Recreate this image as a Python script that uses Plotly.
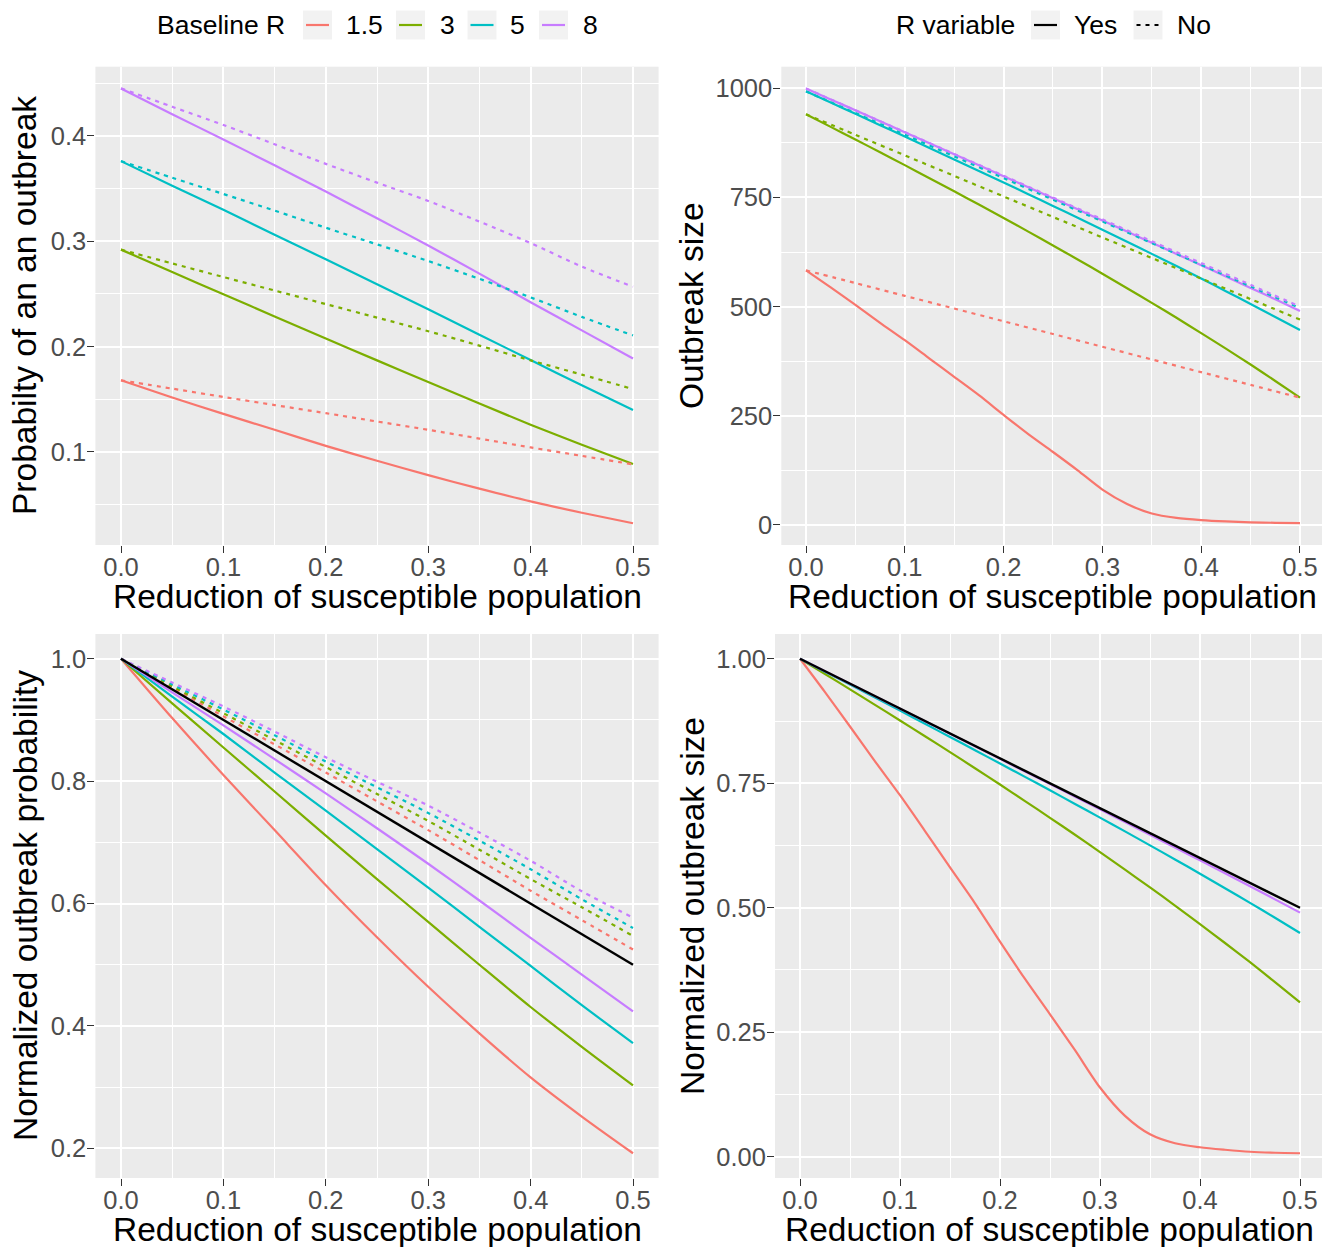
import plotly.graph_objects as go

# ---------------- data ----------------
x11 = [0.0, 0.05, 0.1, 0.15, 0.2, 0.25, 0.3, 0.35, 0.4, 0.45, 0.5]
x21 = [0.0, 0.025, 0.05, 0.075, 0.1, 0.125, 0.15, 0.175, 0.2, 0.225, 0.25,
       0.275, 0.3, 0.325, 0.35, 0.375, 0.4, 0.425, 0.45, 0.475, 0.5]
r_labels = ["1.5", "3", "5", "8"]

# Probability of an outbreak (R variable = Yes -> solid, No -> dotted)
prob_yes_1_5 = [0.168, 0.1517, 0.1361, 0.1210, 0.1058, 0.0916, 0.0780, 0.0652, 0.0531, 0.0423, 0.0323]
prob_yes_3 = [0.292, 0.2707, 0.2497, 0.2286, 0.2076, 0.1869, 0.1664, 0.1460, 0.1259, 0.1069, 0.0885]
prob_yes_5 = [0.376, 0.3527, 0.3298, 0.3061, 0.2828, 0.2591, 0.2354, 0.2113, 0.1872, 0.1632, 0.1399]
prob_yes_8 = [0.445, 0.4205, 0.3965, 0.3720, 0.3471, 0.3217, 0.2959, 0.2692, 0.2421, 0.2154, 0.1887]
prob_no_1_5 = [0.168, 0.1601, 0.1522, 0.1445, 0.1368, 0.1289, 0.1210, 0.1127, 0.1043, 0.0963, 0.0882]
prob_no_3 = [0.292, 0.2789, 0.2660, 0.2532, 0.2403, 0.2275, 0.2146, 0.2009, 0.1869, 0.1734, 0.1597]
prob_no_5 = [0.376, 0.3602, 0.3448, 0.3290, 0.3128, 0.2970, 0.2812, 0.2643, 0.2467, 0.2282, 0.2106]
prob_no_8 = [0.445, 0.4276, 0.4103, 0.3920, 0.3734, 0.3556, 0.3382, 0.3186, 0.2982, 0.2759, 0.2568]

# Normalized outbreak probability
nprob_yes_1_5 = [1.0, 0.903, 0.810, 0.720, 0.630, 0.545, 0.464, 0.388, 0.316, 0.252, 0.192]
nprob_yes_3 = [1.0, 0.927, 0.855, 0.783, 0.711, 0.640, 0.570, 0.500, 0.431, 0.366, 0.303]
nprob_yes_5 = [1.0, 0.938, 0.877, 0.814, 0.752, 0.689, 0.626, 0.562, 0.498, 0.434, 0.372]
nprob_yes_8 = [1.0, 0.945, 0.891, 0.836, 0.780, 0.723, 0.665, 0.605, 0.544, 0.484, 0.424]
nprob_no_1_5 = [1.0, 0.953, 0.906, 0.860, 0.814, 0.767, 0.720, 0.671, 0.621, 0.573, 0.525]
nprob_no_3 = [1.0, 0.955, 0.911, 0.867, 0.823, 0.779, 0.735, 0.688, 0.640, 0.594, 0.547]
nprob_no_5 = [1.0, 0.958, 0.917, 0.875, 0.832, 0.790, 0.748, 0.703, 0.656, 0.607, 0.560]
nprob_no_8 = [1.0, 0.961, 0.922, 0.881, 0.839, 0.799, 0.760, 0.716, 0.670, 0.620, 0.577]

# Outbreak size
size_yes_1_5 = [583, 544, 504, 463, 423, 381, 339, 297, 252, 208, 167,
                125, 81, 48, 26, 16, 11, 8, 6, 4.8, 4]
size_yes_3 = [940.5, 911.7, 882.7, 853.5, 824.0, 794.1, 764.2, 733.7, 702.9, 671.7, 640.1,
              608.1, 575.3, 542.2, 508.6, 474.4, 439.3, 403.7, 367.4, 329.7, 291.4]
size_yes_5 = [993.0, 967.3, 941.5, 915.5, 889.5, 863.3, 837.1, 810.6, 784.2, 757.5, 730.6,
              703.5, 676.2, 648.7, 620.8, 592.8, 564.3, 535.4, 506.2, 476.4, 446.3]
size_yes_8 = [999.7, 974.6, 949.5, 924.4, 899.4, 874.2, 849.1, 823.9, 798.7, 773.5, 748.1,
              722.8, 697.3, 671.9, 646.3, 620.6, 594.9, 568.9, 542.9, 516.6, 490.1]
size_no_1_5 = [583, 553.9, 524.7, 495.6, 466.4, 437.3, 408.1, 379.0, 349.8, 320.7, 291.5]
size_no_3 = [940.5, 893.5, 846.5, 799.4, 752.4, 705.4, 658.4, 611.3, 564.3, 517.3, 470.3]
size_no_5 = [993.0, 943.4, 893.7, 844.1, 794.4, 744.8, 695.1, 645.5, 595.8, 546.2, 496.5]
size_no_8 = [999.7, 949.7, 899.7, 849.7, 799.8, 749.8, 699.8, 649.8, 599.8, 549.9, 499.9]

# Normalized outbreak size
nsize_yes_1_5 = [1.0, 0.933, 0.864, 0.794, 0.726, 0.654, 0.581, 0.509, 0.432, 0.357, 0.286,
                 0.214, 0.139, 0.082, 0.045, 0.027, 0.019, 0.014, 0.010, 0.008, 0.007]
nsize_yes_3 = [1.0, 0.9694, 0.9386, 0.9075, 0.8761, 0.8443, 0.8126, 0.7801, 0.7474, 0.7142, 0.6806,
               0.6466, 0.6117, 0.5765, 0.5408, 0.5044, 0.4671, 0.4292, 0.3906, 0.3506, 0.3098]
nsize_yes_5 = [1.0, 0.9741, 0.9481, 0.9220, 0.8958, 0.8694, 0.8430, 0.8163, 0.7897, 0.7628, 0.7358,
               0.7085, 0.6810, 0.6533, 0.6252, 0.5970, 0.5683, 0.5392, 0.5098, 0.4798, 0.4494]
nsize_yes_8 = [1.0, 0.9749, 0.9498, 0.9247, 0.8997, 0.8745, 0.8494, 0.8241, 0.7989, 0.7737, 0.7483,
               0.7230, 0.6975, 0.6721, 0.6465, 0.6208, 0.5951, 0.5691, 0.5431, 0.5168, 0.4902]

# Proportional reference line (black)
ref_x = [0.0, 0.5]
ref_y = [1.0, 0.5]

# ---------------- styling ----------------
W, H = 1322, 1247
FONT = "Liberation Sans, Arial, Helvetica, sans-serif"
COLORS = ["#F8766D", "#7CAE00", "#00BFC4", "#C77CFF"]
LW = 2.2
DOT = "4px,5px"


def fx(p):
    return p / W


def fy(p):
    return 1 - p / H


fig = go.Figure()


def add_line(x, y, color, dash, xa, ya, name, width=LW):
    fig.add_trace(go.Scatter(
        x=x, y=y, mode="lines", name=name, showlegend=False,
        line=dict(color=color, width=width, dash=dash, shape="spline", smoothing=0.8),
        xaxis=xa, yaxis=ya, hoverinfo="x+y+name"))


# Panel 1: probability
for lab, c, ys in zip(r_labels, COLORS, [prob_yes_1_5, prob_yes_3, prob_yes_5, prob_yes_8]):
    add_line(x11, ys, c, "solid", "x", "y", "R=" + lab + " Yes")
for lab, c, ys in zip(r_labels, COLORS, [prob_no_1_5, prob_no_3, prob_no_5, prob_no_8]):
    add_line(x11, ys, c, DOT, "x", "y", "R=" + lab + " No")

# Panel 2: size
for lab, c, ys in zip(r_labels, COLORS, [size_yes_1_5, size_yes_3, size_yes_5, size_yes_8]):
    add_line(x21, ys, c, "solid", "x2", "y2", "R=" + lab + " Yes")
for lab, c, ys in zip(r_labels, COLORS, [size_no_1_5, size_no_3, size_no_5, size_no_8]):
    add_line(x11, ys, c, DOT, "x2", "y2", "R=" + lab + " No")

# Panel 3: normalized probability
for lab, c, ys in zip(r_labels, COLORS, [nprob_yes_1_5, nprob_yes_3, nprob_yes_5, nprob_yes_8]):
    add_line(x11, ys, c, "solid", "x3", "y3", "R=" + lab + " Yes")
for lab, c, ys in zip(r_labels, COLORS, [nprob_no_1_5, nprob_no_3, nprob_no_5, nprob_no_8]):
    add_line(x11, ys, c, DOT, "x3", "y3", "R=" + lab + " No")
add_line(ref_x, ref_y, "black", "solid", "x3", "y3", "proportional", width=2.4)

# Panel 4: normalized size
for lab, c, ys in zip(r_labels, COLORS, [nsize_yes_1_5, nsize_yes_3, nsize_yes_5, nsize_yes_8]):
    add_line(x21, ys, c, "solid", "x4", "y4", "R=" + lab + " Yes")
add_line(ref_x, ref_y, "black", "solid", "x4", "y4", "proportional", width=2.4)


def axis(domain, rng, dtick, minor_dtick, fmt, anchor, standoff):
    return dict(
        domain=domain, range=rng, anchor=anchor, autorange=False,
        tick0=0, dtick=dtick, tickformat=fmt,
        showgrid=True, gridcolor="white", gridwidth=2.0,
        zeroline=False, showline=False,
        ticks="outside", ticklen=7, tickwidth=1.4, tickcolor="#333333",
        ticklabelstandoff=standoff,
        tickfont=dict(family=FONT, size=25.5, color="#4D4D4D"),
        minor=dict(showgrid=True, gridcolor="white", gridwidth=1.0, tick0=0, dtick=minor_dtick),
    )


top_dom = [fy(545), fy(66.7)]
bot_dom = [fy(1178), fy(634)]
left_dom = [fx(95.4), fx(658.6)]
tr_dom = [fx(781.3), 1.0]
br_dom = [fx(775), 1.0]

fig.update_layout(
    width=W, height=H,
    margin=dict(l=0, r=0, t=0, b=0),
    paper_bgcolor="white", plot_bgcolor="#EBEBEB",
    font=dict(family=FONT),
    showlegend=False,
    xaxis=axis(left_dom, [-0.025, 0.525], 0.1, 0.05, ".1f", "y", -8),
    yaxis=axis(top_dom, [0.0117, 0.4656], 0.1, 0.05, ".1f", "x", -4),
    xaxis2=axis(tr_dom, [-0.025, 0.5223], 0.1, 0.05, ".1f", "y2", -8),
    yaxis2=axis(top_dom, [-46, 1049.5], 250, 125, "d", "x2", -4),
    xaxis3=axis(left_dom, [-0.025, 0.525], 0.1, 0.05, ".1f", "y3", -8),
    yaxis3=axis(bot_dom, [0.1516, 1.0404], 0.2, 0.1, ".1f", "x3", -4),
    xaxis4=axis(br_dom, [-0.025, 0.522], 0.1, 0.05, ".1f", "y4", -8),
    yaxis4=axis(bot_dom, [-0.0427, 1.0497], 0.25, 0.125, ".2f", "x4", -4),
)

shapes = []
annotations = []

# ---------------- axis titles ----------------
TITLE_FONT = dict(family=FONT, size=33.5, color="black")
xt = "Reduction of susceptible population"


def xtitle(cx, cy, text):
    annotations.append(dict(text=text, xref="paper", yref="paper", x=fx(cx), y=fy(cy),
                            xanchor="center", yanchor="middle", showarrow=False,
                            font=TITLE_FONT, borderpad=0))


def ytitle(cx, cy, text):
    annotations.append(dict(text=text, xref="paper", yref="paper", x=fx(cx), y=fy(cy),
                            xanchor="center", yanchor="middle", showarrow=False,
                            textangle=-90, font=TITLE_FONT, borderpad=0))


xtitle(377, 597, xt)
xtitle(1052, 597, xt)
xtitle(377, 1229, xt)
xtitle(1049, 1229, xt)
ytitle(25, 306, "Probabilty of an an outbreak")
ytitle(692, 306, "Outbreak size")
ytitle(25, 906, "Normalized outbreak probability")
ytitle(692, 906, "Normalized outbreak size")

# ---------------- manual legends (top) ----------------
LEG_Y = 25
LEG_FONT = dict(family=FONT, size=26.5, color="black")


def key(left, color, dash):
    shapes.append(dict(type="rect", xref="paper", yref="paper",
                       x0=fx(left), x1=fx(left + 29), y0=fy(39.5), y1=fy(10.5),
                       fillcolor="#F2F2F2", line=dict(width=0), layer="above"))
    shapes.append(dict(type="line", xref="paper", yref="paper",
                       x0=fx(left + 3), x1=fx(left + 26), y0=fy(LEG_Y), y1=fy(LEG_Y),
                       line=dict(color=color, width=2.2, dash=dash), layer="above"))


def label(left, text):
    annotations.append(dict(text=text, xref="paper", yref="paper", x=fx(left), y=fy(LEG_Y),
                            xanchor="left", yanchor="middle", showarrow=False, font=LEG_FONT,
                            borderpad=0))


label(156, "Baseline R")
for left, c in zip([303, 396, 467.5, 539], COLORS):
    key(left, c, "solid")
for left, t in zip([345, 439, 509, 582], r_labels):
    label(left, t)

label(895, "R variable")
key(1031, "black", "solid")
label(1073, "Yes")
key(1133.5, "black", DOT)
label(1176, "No")

fig.update_layout(shapes=shapes, annotations=annotations)

fig.write_html("out.html")
